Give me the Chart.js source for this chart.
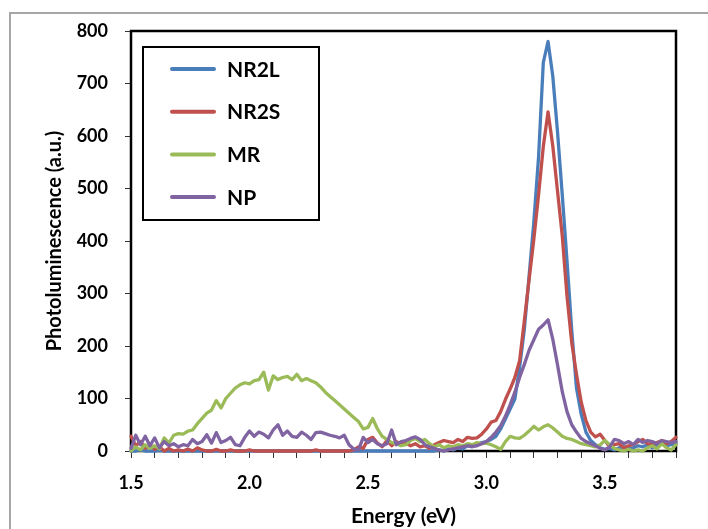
<!DOCTYPE html>
<html>
<head>
<meta charset="utf-8">
<script src="https://cdn.jsdelivr.net/npm/chart.js@4.4.1/dist/chart.umd.min.js"></script>
<style>
  html, body { margin: 0; padding: 0; background: #fff; }
  #wrap { position: relative; width: 708px; height: 529px; overflow: hidden; }
  #frame { position: absolute; left: 9px; top: 12px; width: 760px; height: 600px; border: 2px solid #a6a6a6; }
  #c { position: absolute; left: 0; top: 0; }
</style>
</head>
<body>
<div id="wrap">
  <div id="frame"></div>
  <canvas id="c" width="708" height="529"></canvas>
</div>
<script>
// Photoluminescence spectra

const energy = [
  1.50, 1.52, 1.54, 1.56, 1.58, 1.60, 1.62, 1.64, 1.66, 1.68,
  1.70, 1.72, 1.74, 1.76, 1.78, 1.80, 1.82, 1.84, 1.86, 1.88,
  1.90, 1.92, 1.94, 1.96, 1.98, 2.00, 2.02, 2.04, 2.06, 2.08,
  2.10, 2.12, 2.14, 2.16, 2.18, 2.20, 2.22, 2.24, 2.26, 2.28,
  2.30, 2.32, 2.34, 2.36, 2.38, 2.40, 2.42, 2.44, 2.46, 2.48,
  2.50, 2.52, 2.54, 2.56, 2.58, 2.60, 2.62, 2.64, 2.66, 2.68,
  2.70, 2.72, 2.74, 2.76, 2.78, 2.80, 2.82, 2.84, 2.86, 2.88,
  2.90, 2.92, 2.94, 2.96, 2.98, 3.00, 3.02, 3.04, 3.06, 3.08,
  3.10, 3.12, 3.14, 3.16, 3.18, 3.20, 3.22, 3.24, 3.26, 3.28,
  3.30, 3.32, 3.34, 3.36, 3.38, 3.40, 3.42, 3.44, 3.46, 3.48,
  3.50, 3.52, 3.54, 3.56, 3.58, 3.60, 3.62, 3.64, 3.66, 3.68,
  3.70, 3.72, 3.74, 3.76, 3.78, 3.80
];

const nr2l = [
  0, 0, 2, 0, 0, 0, 1, 0, 0, 0,
  0, 0, 0, 0, 0, 0, 0, 0, 0, 0,
  0, 0, 0, 0, 0, 0, 0, 0, 0, 0,
  0, 0, 0, 0, 0, 0, 0, 0, 0, 0,
  0, 0, 0, 0, 0, 0, 0, 0, 0, 0,
  0, 0, 0, 0, 0, 0, 0, 0, 0, 0,
  0, 0, 0, 0, 0, 2, 0, 4, 2, 6,
  4, 10, 8, 12, 16, 18, 22, 28, 42, 61,
  80, 99, 159, 232, 333, 436, 560, 740, 780, 714,
  608, 488, 362, 230, 120, 70, 36, 20, 12, 6,
  3, 5, 2, 6, 8, 4, 6, 10, 8, 12,
  6, 10, 14, 10, 12, 14
];

const nr2s = [
  28, 10, 18, 5, 12, 3, 8, 0, 5, 0,
  2, 0, 4, 0, 6, 2, 0, 0, 3, 0,
  0, 2, 0, 0, 0, 2, 0, 0, 0, 0,
  0, 0, 0, 0, 0, 0, 0, 0, 0, 2,
  0, 0, 0, 0, 0, 0, 0, 2, 8, 5,
  22, 26, 15, 8, 20, 10, 18, 12, 15, 10,
  14, 8, 10, 5, 12, 16, 20, 18, 16, 22,
  18, 26, 24, 25, 32, 42, 55, 58, 75, 98,
  118, 140, 172, 248, 326, 403, 488, 580, 646, 581,
  495, 410, 295, 206, 146, 93, 58, 36, 27, 32,
  20, 8, 12, 14, 6, 10, 12, 18, 22, 14,
  12, 16, 20, 14, 18, 26
];

const mr = [
  0, 8, 2, 12, 5, 10, 4, 25, 15, 30,
  33, 32, 38, 40, 52, 62, 72, 78, 96, 82,
  100, 110, 120, 126, 130, 128, 134, 136, 150, 116,
  143, 136, 140, 142, 136, 146, 134, 138, 134, 130,
  122, 112, 104, 96, 88, 80, 72, 64, 56, 42,
  45, 62, 42, 28, 22, 16, 14, 10, 12, 20,
  24, 18, 22, 14, 8, 12, 6, 10, 8, 12,
  10, 14, 12, 16, 14, 15, 12, 8, 3, 18,
  28, 25, 24, 30, 38, 47, 40, 46, 50, 44,
  36, 28, 24, 22, 18, 14, 12, 10, 8, 12,
  20, 12, 5, 2, 0, 3, 0, 2, 0, 6,
  10, 4, 14, 6, 2, 12
];

const np = [
  5, 30, 12, 28, 10, 25, 6, 18, 10, 14,
  8, 12, 10, 22, 14, 18, 31, 15, 35, 16,
  20, 26, 12, 10, 26, 38, 28, 36, 32, 25,
  40, 50, 30, 38, 28, 26, 36, 30, 22, 35,
  36, 33, 30, 28, 25, 30, 12, 4, 2, 26,
  16, 22, 14, 10, 14, 40, 12, 18, 20, 24,
  27, 22, 12, 8, 5, 2, 0, 2, 4, 6,
  8, 10, 9, 10, 14, 18, 26, 36, 48, 66,
  88, 112, 140, 165, 192, 212, 232, 240, 250, 213,
  164, 113, 75, 50, 36, 24, 18, 14, 10, 5,
  2, 8, 22, 20, 14, 18, 12, 22, 16, 20,
  18, 14, 20, 18, 16, 18
];

const seriesNames = ['NR2L', 'NR2S', 'MR', 'NP'];
const seriesColors = ['#4A7EBB', '#C0504D', '#9BBB59', '#8064A2'];
const seriesValues = [nr2l, nr2s, mr, np];

const yTicks = [0, 100, 200, 300, 400, 500, 600, 700, 800];
const xLabelTicks = [1.5, 2.0, 2.5, 3.0, 3.5];

const FONT = 'Lato';

// box frame round the plot area, drawn under the lines
const plotFrame = {
  id: 'plotFrame',
  beforeDatasetsDraw(chart) {
    const { ctx, chartArea: a } = chart;
    ctx.save();
    ctx.strokeStyle = '#000';
    ctx.lineWidth = 2.5;
    ctx.strokeRect(a.left, a.top, a.right - a.left, a.bottom - a.top);
    ctx.restore();
  }
};

// boxed legend inside the plot, top left
const boxLegend = {
  id: 'boxLegend',
  afterDraw(chart) {
    const { ctx, chartArea: a } = chart;
    const bx = a.left + 12, by = a.top + 16, bw = 176, bh = 173;
    ctx.save();
    ctx.fillStyle = '#fff';
    ctx.fillRect(bx, by, bw, bh);
    ctx.strokeStyle = '#000';
    ctx.lineWidth = 2;
    ctx.strokeRect(bx, by, bw, bh);
    ctx.font = 'bold 21px ' + FONT;
    ctx.textBaseline = 'middle';
    chart.data.datasets.forEach((ds, i) => {
      const y = by + 22 + i * 42.7;
      ctx.strokeStyle = ds.borderColor;
      ctx.lineWidth = 4;
      ctx.lineCap = 'round';
      ctx.beginPath();
      ctx.moveTo(bx + 29, y);
      ctx.lineTo(bx + 71, y);
      ctx.stroke();
      ctx.fillStyle = '#000';
      ctx.fillText(ds.label, bx + 84, y + 1);
    });
    ctx.restore();
  }
};

new Chart(document.getElementById('c'), {
  type: 'line',
  data: {
    datasets: seriesNames.map((name, i) => ({
      label: name,
      data: energy.map((e, j) => ({ x: e, y: seriesValues[i][j] })),
      borderColor: seriesColors[i],
      backgroundColor: seriesColors[i],
      borderWidth: 3.3,
      borderJoinStyle: 'round',
      borderCapStyle: 'round',
      pointRadius: 0,
      tension: 0,
      fill: false,
      clip: false,
      order: 4 - i,
    })),
  },
  options: {
    responsive: false,
    animation: false,
    layout: { padding: { top: 31, right: 32, bottom: 0, left: 0 } },
    plugins: {
      legend: { display: false },
      tooltip: { enabled: false },
    },
    scales: {
      x: {
        type: 'linear',
        min: 1.5,
        max: 3.8,
        border: { display: false },
        grid: { drawOnChartArea: false, drawTicks: true, tickLength: 7, color: '#333', lineWidth: 1 },
        ticks: {
          stepSize: 0.1,
          autoSkip: false,
          maxRotation: 0,
          padding: 14,
          color: '#000',
          font: { family: FONT, size: 18, weight: 'bold' },
          callback: (v) => {
            const hit = xLabelTicks.find(t => Math.abs(t - v) < 1e-6);
            return hit === undefined ? '' : hit.toFixed(1);
          },
        },
        title: {
          display: true,
          text: 'Energy (eV)',
          color: '#000',
          font: { family: FONT, size: 21, weight: 'bold' },
          padding: { top: 0, bottom: 0 },
        },
        afterFit: (s) => { s.height = 78; },
      },
      y: {
        min: 0,
        max: 800,
        border: { display: false },
        grid: { drawOnChartArea: false, drawTicks: true, tickLength: 6, color: '#333', lineWidth: 1 },
        afterBuildTicks: (s) => { s.ticks = yTicks.map(v => ({ value: v })); },
        ticks: {
          padding: 17,
          color: '#000',
          font: { family: FONT, size: 18, weight: 'bold' },
        },
        title: {
          display: true,
          text: 'Photoluminescence (a.u.)',
          color: '#000',
          font: { family: FONT, size: 20, weight: 'bold' },
          padding: { top: 43, bottom: 0 },
        },
        afterFit: (s) => { s.width = 131; },
      },
    },
  },
  plugins: [plotFrame, boxLegend],
});
</script>
</body>
</html>
